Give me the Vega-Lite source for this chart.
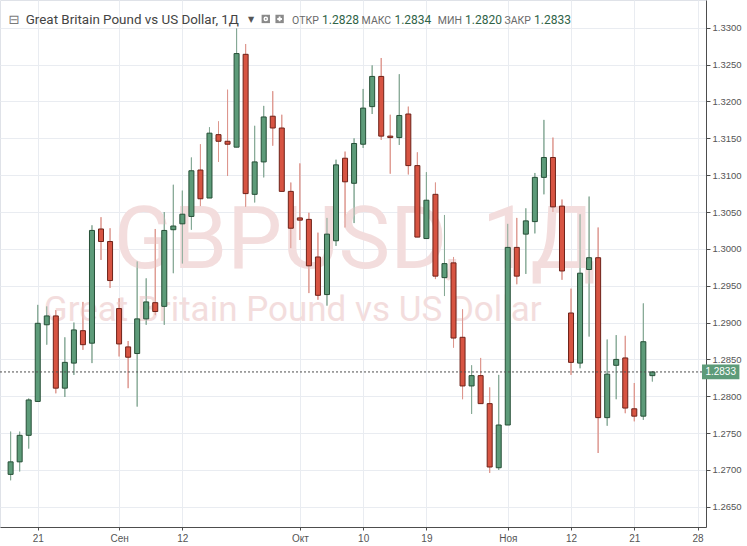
{
  "$schema": "https://vega.github.io/schema/vega-lite/v6.json",
  "width": 706,
  "height": 527,
  "autosize": {"type": "none"},
  "padding": {"left": 0, "top": 0, "right": 41, "bottom": 19},
  "background": "#ffffff",
  "config": {
    "view": {"stroke": "#dfe2e8", "strokeWidth": 1},
    "font": "Roboto"
  },
  "data": {
    "values": [
      {"date": "2018-08-16", "open": 1.2694, "high": 1.2752, "low": 1.2686, "close": 1.2711},
      {"date": "2018-08-17", "open": 1.2711, "high": 1.2752, "low": 1.2698, "close": 1.2747},
      {"date": "2018-08-20", "open": 1.2747, "high": 1.2797, "low": 1.2729, "close": 1.2795},
      {"date": "2018-08-21", "open": 1.2793, "high": 1.2924, "low": 1.2793, "close": 1.2899},
      {"date": "2018-08-22", "open": 1.2897, "high": 1.2922, "low": 1.2870, "close": 1.2909},
      {"date": "2018-08-23", "open": 1.2909, "high": 1.2917, "low": 1.2804, "close": 1.2811},
      {"date": "2018-08-24", "open": 1.2811, "high": 1.2880, "low": 1.2799, "close": 1.2846},
      {"date": "2018-08-27", "open": 1.2845, "high": 1.2900, "low": 1.2829, "close": 1.2890},
      {"date": "2018-08-28", "open": 1.2889, "high": 1.2928, "low": 1.2863, "close": 1.2870},
      {"date": "2018-08-29", "open": 1.2872, "high": 1.3032, "low": 1.2845, "close": 1.3025},
      {"date": "2018-08-30", "open": 1.3027, "high": 1.3043, "low": 1.2985, "close": 1.3010},
      {"date": "2018-08-31", "open": 1.3010, "high": 1.3028, "low": 1.2947, "close": 1.2957},
      {"date": "2018-09-03", "open": 1.2919, "high": 1.2933, "low": 1.2854, "close": 1.2871},
      {"date": "2018-09-04", "open": 1.2867, "high": 1.2875, "low": 1.2811, "close": 1.2853},
      {"date": "2018-09-05", "open": 1.2858, "high": 1.2983, "low": 1.2786, "close": 1.2905},
      {"date": "2018-09-06", "open": 1.2905, "high": 1.2960, "low": 1.2897, "close": 1.2928},
      {"date": "2018-09-07", "open": 1.2927, "high": 1.3027, "low": 1.2910, "close": 1.2915},
      {"date": "2018-09-10", "open": 1.2922, "high": 1.3050, "low": 1.2897, "close": 1.3025},
      {"date": "2018-09-11", "open": 1.3026, "high": 1.3087, "low": 1.2967, "close": 1.3031},
      {"date": "2018-09-12", "open": 1.3034, "high": 1.3079, "low": 1.2980, "close": 1.3047},
      {"date": "2018-09-13", "open": 1.3044, "high": 1.3124, "low": 1.3026, "close": 1.3106},
      {"date": "2018-09-14", "open": 1.3107, "high": 1.3142, "low": 1.3058, "close": 1.3068},
      {"date": "2018-09-17", "open": 1.3069, "high": 1.3165, "low": 1.3069, "close": 1.3157},
      {"date": "2018-09-18", "open": 1.3155, "high": 1.3173, "low": 1.3118, "close": 1.3146},
      {"date": "2018-09-19", "open": 1.3146, "high": 1.3216, "low": 1.3099, "close": 1.3142},
      {"date": "2018-09-20", "open": 1.3138, "high": 1.3299, "low": 1.3138, "close": 1.3265},
      {"date": "2018-09-21", "open": 1.3264, "high": 1.3278, "low": 1.3057, "close": 1.3075},
      {"date": "2018-09-24", "open": 1.3074, "high": 1.3167, "low": 1.3063, "close": 1.3118},
      {"date": "2018-09-25", "open": 1.3118, "high": 1.3194, "low": 1.3097, "close": 1.3179},
      {"date": "2018-09-26", "open": 1.3180, "high": 1.3214, "low": 1.3140, "close": 1.3164},
      {"date": "2018-09-27", "open": 1.3164, "high": 1.3182, "low": 1.3078, "close": 1.3078},
      {"date": "2018-09-28", "open": 1.3078, "high": 1.3090, "low": 1.3001, "close": 1.3028},
      {"date": "2018-10-01", "open": 1.3042, "high": 1.3116, "low": 1.3012, "close": 1.3039},
      {"date": "2018-10-02", "open": 1.3040, "high": 1.3049, "low": 1.2940, "close": 1.2977},
      {"date": "2018-10-03", "open": 1.2989, "high": 1.3022, "low": 1.2931, "close": 1.2937},
      {"date": "2018-10-04", "open": 1.2938, "high": 1.3042, "low": 1.2923, "close": 1.3020},
      {"date": "2018-10-05", "open": 1.3011, "high": 1.3121, "low": 1.3004, "close": 1.3114},
      {"date": "2018-10-08", "open": 1.3123, "high": 1.3132, "low": 1.3029, "close": 1.3091},
      {"date": "2018-10-09", "open": 1.3089, "high": 1.3150, "low": 1.3035, "close": 1.3143},
      {"date": "2018-10-10", "open": 1.3142, "high": 1.3217, "low": 1.3137, "close": 1.3191},
      {"date": "2018-10-11", "open": 1.3193, "high": 1.3249, "low": 1.3183, "close": 1.3234},
      {"date": "2018-10-12", "open": 1.3234, "high": 1.3259, "low": 1.3148, "close": 1.3153},
      {"date": "2018-10-15", "open": 1.3153, "high": 1.3182, "low": 1.3102, "close": 1.3151},
      {"date": "2018-10-16", "open": 1.3151, "high": 1.3237, "low": 1.3141, "close": 1.3181},
      {"date": "2018-10-17", "open": 1.3183, "high": 1.3193, "low": 1.3101, "close": 1.3113},
      {"date": "2018-10-18", "open": 1.3113, "high": 1.3131, "low": 1.3016, "close": 1.3016},
      {"date": "2018-10-19", "open": 1.3014, "high": 1.3104, "low": 1.3014, "close": 1.3066},
      {"date": "2018-10-22", "open": 1.3074, "high": 1.3090, "low": 1.2959, "close": 1.2963},
      {"date": "2018-10-23", "open": 1.2961, "high": 1.3046, "low": 1.2936, "close": 1.2980},
      {"date": "2018-10-24", "open": 1.2981, "high": 1.2989, "low": 1.2866, "close": 1.2879},
      {"date": "2018-10-25", "open": 1.2880, "high": 1.2918, "low": 1.2796, "close": 1.2814},
      {"date": "2018-10-26", "open": 1.2814, "high": 1.2842, "low": 1.2776, "close": 1.2828},
      {"date": "2018-10-29", "open": 1.2828, "high": 1.2852, "low": 1.2790, "close": 1.2790},
      {"date": "2018-10-30", "open": 1.2790, "high": 1.2812, "low": 1.2696, "close": 1.2704},
      {"date": "2018-10-31", "open": 1.2703, "high": 1.2829, "low": 1.2700, "close": 1.2761},
      {"date": "2018-11-01", "open": 1.2761, "high": 1.3034, "low": 1.2761, "close": 1.3002},
      {"date": "2018-11-02", "open": 1.3002, "high": 1.3042, "low": 1.2952, "close": 1.2963},
      {"date": "2018-11-05", "open": 1.3020, "high": 1.3055, "low": 1.2966, "close": 1.3038},
      {"date": "2018-11-06", "open": 1.3037, "high": 1.3103, "low": 1.3021, "close": 1.3097},
      {"date": "2018-11-07", "open": 1.3097, "high": 1.3175, "low": 1.3074, "close": 1.3124},
      {"date": "2018-11-08", "open": 1.3124, "high": 1.3151, "low": 1.3050, "close": 1.3057},
      {"date": "2018-11-09", "open": 1.3058, "high": 1.3067, "low": 1.2958, "close": 1.2970},
      {"date": "2018-11-12", "open": 1.2913, "high": 1.2946, "low": 1.2829, "close": 1.2846},
      {"date": "2018-11-13", "open": 1.2845, "high": 1.3047, "low": 1.2838, "close": 1.2967},
      {"date": "2018-11-14", "open": 1.2972, "high": 1.3071, "low": 1.2881, "close": 1.2988},
      {"date": "2018-11-15", "open": 1.2988, "high": 1.3029, "low": 1.2723, "close": 1.2771},
      {"date": "2018-11-16", "open": 1.2771, "high": 1.2877, "low": 1.2760, "close": 1.2830},
      {"date": "2018-11-19", "open": 1.2842, "high": 1.2883, "low": 1.2796, "close": 1.2850},
      {"date": "2018-11-20", "open": 1.2852, "high": 1.2882, "low": 1.2777, "close": 1.2784},
      {"date": "2018-11-21", "open": 1.2783, "high": 1.2818, "low": 1.2766, "close": 1.2773},
      {"date": "2018-11-22", "open": 1.2773, "high": 1.2926, "low": 1.2768, "close": 1.2874},
      {"date": "2018-11-23", "open": 1.2828, "high": 1.2834, "low": 1.2820, "close": 1.2833}
    ]
  },
  "transform": [{"window": [{"op": "row_number", "as": "idx"}]}],
  "layer": [
    {
      "mark": {"type": "rule", "strokeWidth": 1},
      "encoding": {
        "x": {
          "field": "idx", "type": "quantitative",
          "scale": {"domain": [0.378, 77.38], "nice": false, "zero": false},
          "axis": {
            "title": null, "orient": "bottom",
            "values": [4, 13, 20, 33, 40, 47, 56, 63, 70, 77],
            "labelExpr": "datum.value == 4 ? '21' : datum.value == 13 ? 'Сен' : datum.value == 20 ? '12' : datum.value == 33 ? 'Окт' : datum.value == 40 ? '10' : datum.value == 47 ? '19' : datum.value == 56 ? 'Ноя' : datum.value == 63 ? '12' : datum.value == 70 ? '21' : '28'",
            "grid": true, "gridColor": "#e9ecf1", "gridWidth": 1,
            "domainColor": "#4d4d4d", "domainWidth": 1,
            "tickColor": "#4d4d4d", "tickSize": 3,
            "labelColor": "#555555", "labelFont": "Liberation Sans", "labelFontSize": 10,
            "labelPadding": 3, "labelFlush": false, "labelOverlap": false
          }
        },
        "y": {
          "field": "low", "type": "quantitative",
          "scale": {"domain": [1.26226, 1.33377], "nice": false, "zero": false},
          "axis": {
            "title": null, "orient": "right",
            "values": [1.265, 1.27, 1.275, 1.28, 1.285, 1.29, 1.295, 1.3, 1.305, 1.31, 1.315, 1.32, 1.325, 1.33],
            "format": ".4f",
            "grid": true, "gridColor": "#e9ecf1", "gridWidth": 1,
            "domainColor": "#4d4d4d", "domainWidth": 1,
            "tickColor": "#4d4d4d", "tickSize": 4,
            "labelColor": "#555555", "labelFont": "Liberation Sans", "labelFontSize": 9.5,
            "labelPadding": 2, "labelOverlap": false, "labelFlush": false
          }
        },
        "y2": {"field": "high"},
        "color": {
          "condition": {"test": "datum.close >= datum.open", "value": "#86a996"},
          "value": "#dd978e"
        }
      }
    },
    {
      "data": {"values": [{}]},
      "mark": {"type": "text", "align": "center", "baseline": "alphabetic", "fontSize": 87, "font": "Roboto", "fill": "#f3dddd"},
      "encoding": {
        "x": {"datum": 39.09, "type": "quantitative", "scale": {"domain": [0.378, 77.38], "nice": false, "zero": false}},
        "y": {"datum": 1.29741, "type": "quantitative", "scale": {"domain": [1.26226, 1.33377], "nice": false, "zero": false}},
        "text": {"value": "GBPUSD, 1Д"}
      }
    },
    {
      "data": {"values": [{}]},
      "mark": {"type": "text", "align": "center", "baseline": "alphabetic", "fontSize": 35, "font": "Roboto", "fill": "#f3dddd"},
      "encoding": {
        "x": {"datum": 32.22, "type": "quantitative"},
        "y": {"datum": 1.29022, "type": "quantitative"},
        "text": {"value": "Great Britain Pound vs US Dollar"}
      }
    },
    {
      "mark": {"type": "rule", "strokeWidth": 1},
      "encoding": {
        "x": {"field": "idx", "type": "quantitative"},
        "y": {"field": "low", "type": "quantitative"},
        "y2": {"field": "high"},
        "color": {
          "condition": {"test": "datum.close >= datum.open", "value": "#86a996"},
          "value": "#dd978e"
        }
      }
    },
    {
      "mark": {"type": "bar", "width": 5, "strokeWidth": 1},
      "encoding": {
        "x": {"field": "idx", "type": "quantitative"},
        "y": {"field": "open", "type": "quantitative"},
        "y2": {"field": "close"},
        "fill": {
          "condition": {"test": "datum.close >= datum.open", "value": "#5d9b79"},
          "value": "#d75442"
        },
        "stroke": {
          "condition": {"test": "datum.close >= datum.open", "value": "#264f37"},
          "value": "#6e2219"
        }
      }
    },
    {
      "data": {"values": [{}]},
      "mark": {"type": "rule", "strokeDash": [2, 2], "strokeWidth": 1, "color": "#4d4d4d"},
      "encoding": {
        "y": {"datum": 1.2833, "type": "quantitative"}
      }
    },
    {
      "data": {"values": [{}]},
      "mark": {"type": "rect", "fill": "#5d9b79", "clip": false},
      "encoding": {
        "x": {"datum": 77.49, "type": "quantitative"},
        "x2": {"datum": 81.63},
        "y": {"datum": 1.2843, "type": "quantitative"},
        "y2": {"datum": 1.2823}
      }
    },
    {
      "data": {"values": [{}]},
      "mark": {"type": "text", "align": "center", "baseline": "middle", "fontSize": 10, "font": "Liberation Sans", "fill": "#ffffff"},
      "encoding": {
        "x": {"datum": 79.56, "type": "quantitative"},
        "y": {"datum": 1.2833, "type": "quantitative"},
        "text": {"value": "1.2833"}
      }
    },
    {
      "data": {"values": [{}]},
      "mark": {"type": "text", "align": "center", "baseline": "alphabetic", "fontSize": 13, "font": "DejaVu Sans", "fill": "#7a7a7a"},
      "encoding": {
        "x": {"datum": 1.36, "type": "quantitative"},
        "y": {"datum": 1.33045, "type": "quantitative"},
        "text": {"value": "⊟"}
      }
    },
    {
      "data": {"values": [{}]},
      "mark": {"type": "text", "align": "left", "baseline": "alphabetic", "fontSize": 13.4, "font": "Roboto", "fill": "#444444"},
      "encoding": {
        "x": {"datum": 2.67, "type": "quantitative"},
        "y": {"datum": 1.33045, "type": "quantitative"},
        "text": {"value": "Great Britain Pound vs US Dollar, 1Д"}
      }
    },
    {
      "data": {"values": [{}]},
      "mark": {"type": "text", "align": "center", "baseline": "alphabetic", "fontSize": 8, "font": "DejaVu Sans", "fill": "#555555"},
      "encoding": {
        "x": {"datum": 27.6, "type": "quantitative"},
        "y": {"datum": 1.33075, "type": "quantitative"},
        "text": {"value": "▼"}
      }
    },
    {
      "data": {"values": [{"k": 29.23}, {"k": 30.76}]},
      "mark": {"type": "point", "shape": "square", "filled": true, "size": 70, "color": "#8a8a8a", "opacity": 1},
      "encoding": {
        "x": {"field": "k", "type": "quantitative"},
        "y": {"datum": 1.3312, "type": "quantitative"}
      }
    },
    {
      "data": {"values": [{"k": 29.23}]},
      "mark": {"type": "point", "shape": "circle", "filled": false, "size": 10, "color": "#ffffff", "strokeWidth": 1.5, "opacity": 1},
      "encoding": {
        "x": {"field": "k", "type": "quantitative"},
        "y": {"datum": 1.3312, "type": "quantitative"}
      }
    },
    {
      "data": {"values": [{"k": 30.76}]},
      "mark": {"type": "point", "shape": "cross", "filled": true, "size": 22, "color": "#ffffff", "opacity": 1},
      "encoding": {
        "x": {"field": "k", "type": "quantitative"},
        "y": {"datum": 1.3312, "type": "quantitative"}
      }
    },
    {
      "data": {"values": [{"t": "ОТКР", "k": 35.1}, {"t": "МАКС", "k": 43.1}, {"t": "МИН", "k": 50.93}, {"t": "ЗАКР", "k": 58.56}]},
      "mark": {"type": "text", "align": "right", "baseline": "alphabetic", "fontSize": 10.5, "font": "Roboto", "fill": "#6a6a6a"},
      "encoding": {
        "x": {"field": "k", "type": "quantitative"},
        "y": {"datum": 1.33045, "type": "quantitative"},
        "text": {"field": "t"}
      }
    },
    {
      "data": {"values": [{"t": "1.2828", "k": 35.46}, {"t": "1.2834", "k": 43.46}, {"t": "1.2820", "k": 51.28}, {"t": "1.2833", "k": 58.91}]},
      "mark": {"type": "text", "align": "left", "baseline": "alphabetic", "fontSize": 12, "font": "Roboto", "fill": "#2f6347"},
      "encoding": {
        "x": {"field": "k", "type": "quantitative"},
        "y": {"datum": 1.33045, "type": "quantitative"},
        "text": {"field": "t"}
      }
    }
  ]
}
